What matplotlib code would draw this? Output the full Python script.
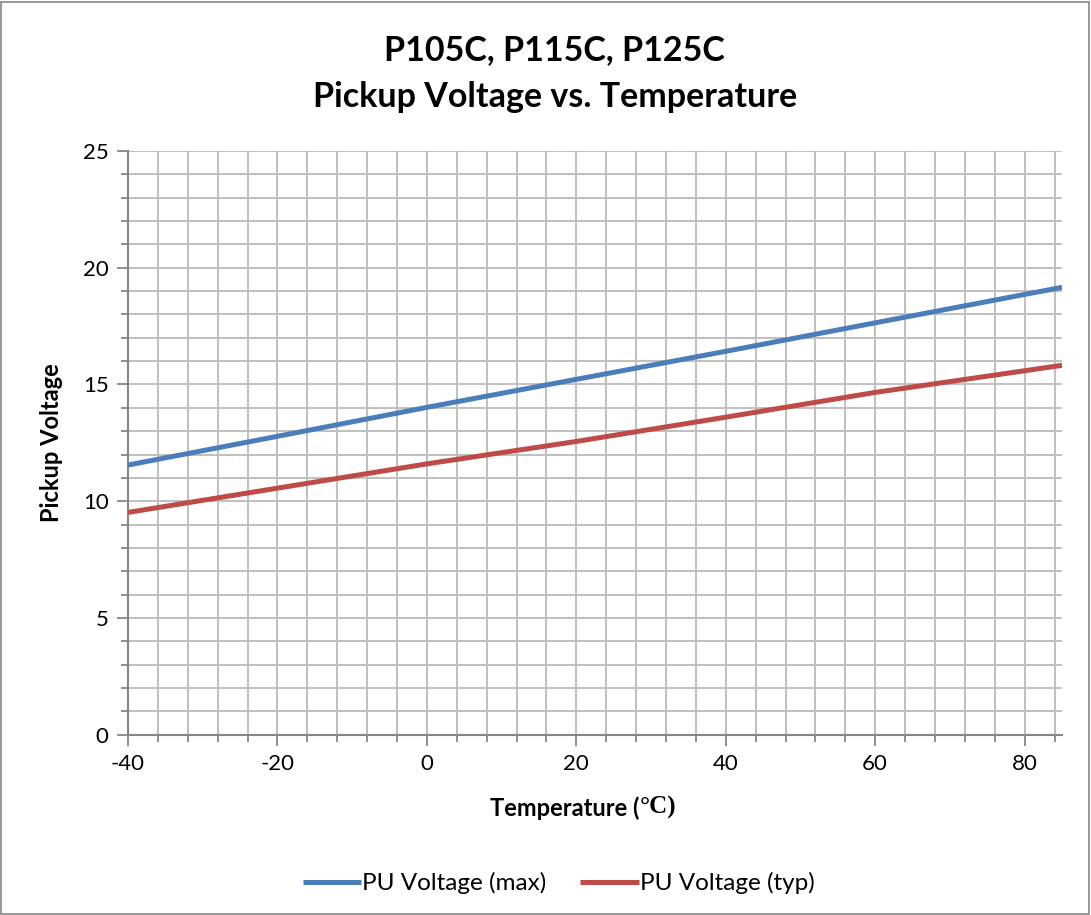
import matplotlib.pyplot as plt
from matplotlib.ticker import MultipleLocator
from matplotlib.patches import Rectangle

# 数据
temps = [-40, -20, 0, 20, 40, 60, 85]
pu_max = [11.55, 12.78, 14.02, 15.22, 16.42, 17.64, 19.16]
pu_typ = [9.52, 10.56, 11.6, 12.56, 13.6, 14.66, 15.82]

x_ticks = [-40, -20, 0, 20, 40, 60, 80]
y_ticks = [0, 5, 10, 15, 20, 25]

plt.rcParams["font.family"] = ["Lato", "DejaVu Sans"]
plt.rcParams["axes.unicode_minus"] = False

fig = plt.figure(figsize=(10.91, 9.15), dpi=100)
ax = fig.add_axes([0.1173, 0.197, 0.9734 - 0.1173, 0.835 - 0.197])

grid_c = "#bfbfbf"
spine_c = "#868686"

ax.plot(temps, pu_max, color="#4a7ebb", linewidth=3.6, label="PU Voltage (max)",
        solid_capstyle="butt", zorder=3)
ax.plot(temps, pu_typ, color="#be4b48", linewidth=3.6, label="PU Voltage (typ)",
        solid_capstyle="butt", zorder=3)

ax.set_xlim(-40, 85)
ax.set_ylim(0, 25)
ax.set_xticks(x_ticks)
ax.set_yticks(y_ticks)
ax.xaxis.set_minor_locator(MultipleLocator(4))
ax.yaxis.set_minor_locator(MultipleLocator(1))
ax.grid(True, which="both", color=grid_c, linewidth=1.4, zorder=0)
ax.set_axisbelow(True)

for s in ["top", "right"]:
    ax.spines[s].set_visible(False)
for s in ["left", "bottom"]:
    ax.spines[s].set_color(spine_c)
    ax.spines[s].set_linewidth(1.5)

ax.tick_params(which="both", direction="out", color=spine_c, width=1.3)
ax.tick_params(which="major", length=8, labelsize=16, pad=6)
ax.tick_params(which="minor", length=5)

# x 轴标题: °C 用衬线字体
fig.text(0.586, 0.117, "Temperature (", fontsize=17, fontweight="bold", ha="right", va="center")
fig.text(0.586, 0.117, "°C)", fontsize=18, family="Liberation Serif", fontweight="bold",
         ha="left", va="center")
ax.set_ylabel("Pickup Voltage", fontsize=17, fontweight="bold", labelpad=14)

fig.text(0.5085, 0.945, "P105C, P115C, P125C", fontsize=24.5, fontweight="bold",
         ha="center", va="center")
fig.text(0.5085, 0.894, "Pickup Voltage vs. Temperature", fontsize=24.5, fontweight="bold",
         ha="center", va="center")

ax.legend(loc="center", bbox_to_anchor=(0.512, 0.035), bbox_transform=fig.transFigure,
          ncol=2, frameon=False, fontsize=17.5, handlelength=2.4, handletextpad=0.05,
          columnspacing=1.4)

# 外框
fig.patches.append(Rectangle((0.001, 0.001), 0.997, 0.997, transform=fig.transFigure,
                             fill=False, edgecolor="#868686", linewidth=1.2))

fig.savefig("out.png", dpi=100)
